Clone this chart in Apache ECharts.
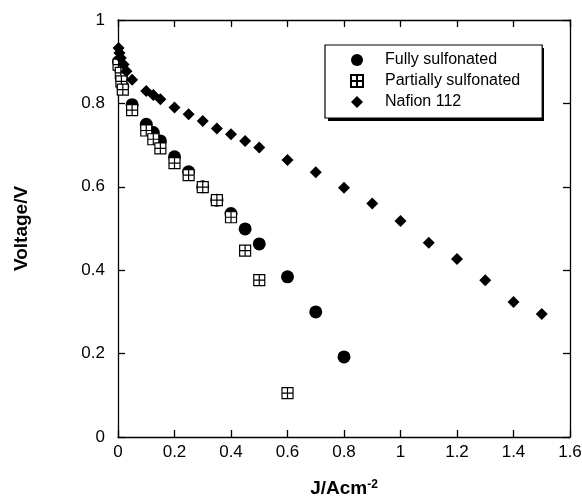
<!DOCTYPE html>
<html>
<head>
<meta charset="utf-8">
<script src="https://cdn.jsdelivr.net/npm/echarts@6/dist/echarts.min.js"></script>
<style>html,body{margin:0;padding:0;background:#fff;}#c{width:582px;height:496px;}</style>
</head>
<body>
<div id="c"></div>
<script>
// Data
const seriesNames = ['Fully sulfonated', 'Partially sulfonated', 'Nafion 112'];

const fullyJ = [0.002, 0.01, 0.012, 0.017, 0.05, 0.1, 0.125, 0.15, 0.2, 0.25, 0.3, 0.35, 0.4, 0.45, 0.5, 0.6, 0.7, 0.8];
const fullyV = [0.9, 0.88, 0.86, 0.84, 0.797, 0.75, 0.73, 0.71, 0.672, 0.636, 0.6, 0.568, 0.536, 0.499, 0.463, 0.384, 0.300, 0.192];

const partialJ = [0.002, 0.01, 0.012, 0.017, 0.05, 0.1, 0.125, 0.15, 0.2, 0.25, 0.3, 0.35, 0.4, 0.45, 0.5, 0.6];
const partialV = [0.893, 0.873, 0.853, 0.833, 0.784, 0.735, 0.714, 0.692, 0.657, 0.628, 0.599, 0.568, 0.527, 0.447, 0.376, 0.105];

const nafionJ = [0.002, 0.005, 0.01, 0.02, 0.03, 0.05, 0.1, 0.125, 0.15, 0.2, 0.25, 0.3, 0.35, 0.4, 0.45, 0.5, 0.6, 0.7, 0.8, 0.9, 1.0, 1.1, 1.2, 1.3, 1.4, 1.5];
const nafionV = [0.933, 0.921, 0.909, 0.893, 0.877, 0.857, 0.83, 0.82, 0.81, 0.79, 0.774, 0.758, 0.74, 0.726, 0.71, 0.694, 0.664, 0.635, 0.598, 0.56, 0.518, 0.466, 0.427, 0.376, 0.324, 0.295];

const xTicks = { min: 0, max: 1.6, interval: 0.2 };
const yTicks = { min: 0, max: 1, interval: 0.2 };

function pairs(xs, ys) { return xs.map((x, i) => [x, ys[i]]); }

const FONT = '"Liberation Sans", Arial, Helvetica, sans-serif';
const squarePlus = 'path://M0,0L10,0L10,10L0,10Z M5,0L5,10 M0,5L10,5';
const diamondPath = 'path://M5,0L10,5L5,10L0,5Z';

const axisCommon = {
  axisLine: { show: true, onZero: false, lineStyle: { color: '#000', width: 1.3 } },
  axisTick: { show: true, inside: true, length: 7, lineStyle: { color: '#000', width: 1.3 } },
  splitLine: { show: false }
};

const chart = echarts.init(document.getElementById('c'), null, { renderer: 'canvas' });
chart.setOption({
  animation: false,
  backgroundColor: '#fff',
  grid: { left: 118, right: 12, top: 20, bottom: 59, containLabel: false, outerBoundsMode: 'none' },
  graphic: [
    { type: 'rect', left: 328, top: 48, shape: { width: 216, height: 73 }, style: { fill: '#000' }, z: 1 }
  ],
  xAxis: [
    Object.assign({
      type: 'value', position: 'bottom', min: xTicks.min, max: xTicks.max, interval: xTicks.interval,
      axisLabel: { color: '#000', fontSize: 17, fontFamily: FONT, margin: 7 },
      name: 'J/Acm{sup|-2}', nameLocation: 'middle', nameGap: 52,
      nameTextStyle: {
        color: '#000', fontSize: 19, fontWeight: 'bold', fontFamily: FONT, verticalAlign: 'middle',
        rich: { sup: { fontSize: 12, fontWeight: 'bold', fontFamily: FONT, color: '#000', padding: [0, 0, 9, 0] } }
      }
    }, axisCommon),
    Object.assign({
      type: 'value', position: 'top', min: xTicks.min, max: xTicks.max, interval: xTicks.interval,
      axisLabel: { show: false }
    }, axisCommon)
  ],
  yAxis: [
    Object.assign({
      type: 'value', position: 'left', min: yTicks.min, max: yTicks.max, interval: yTicks.interval,
      axisLabel: { color: '#000', fontSize: 17, fontFamily: FONT, margin: 13 },
      name: 'Voltage/V', nameLocation: 'middle', nameGap: 96, nameRotate: 90,
      nameTextStyle: { color: '#000', fontSize: 19, fontWeight: 'bold', fontFamily: FONT, verticalAlign: 'middle' }
    }, axisCommon),
    Object.assign({
      type: 'value', position: 'right', min: yTicks.min, max: yTicks.max, interval: yTicks.interval,
      axisLabel: { show: false }
    }, axisCommon)
  ],
  legend: {
    orient: 'vertical', left: 325, top: 45, z: 5,
    padding: [7, 22, 8, 25],
    itemWidth: 12, itemHeight: 12, itemGap: 5,
    backgroundColor: '#fff', borderColor: '#000', borderWidth: 1.2,
    textStyle: { color: '#000', fontSize: 16, fontFamily: FONT, padding: [0, 0, 0, 17] },
    data: seriesNames
  },
  series: [
    {
      name: seriesNames[0], type: 'scatter', xAxisIndex: 0, yAxisIndex: 0,
      symbol: 'circle', symbolSize: 13,
      itemStyle: { color: '#000', opacity: 1 },
      data: pairs(fullyJ, fullyV), z: 2
    },
    {
      name: seriesNames[1], type: 'scatter', xAxisIndex: 0, yAxisIndex: 0,
      symbol: squarePlus, symbolSize: 11,
      itemStyle: { color: '#fff', borderColor: '#000', borderWidth: 1.2, opacity: 1 },
      data: pairs(partialJ, partialV), z: 3
    },
    {
      name: seriesNames[2], type: 'scatter', xAxisIndex: 0, yAxisIndex: 0,
      symbol: diamondPath, symbolSize: 12,
      itemStyle: { color: '#000', opacity: 1 },
      data: pairs(nafionJ, nafionV), z: 4
    }
  ]
});
</script>
</body>
</html>
